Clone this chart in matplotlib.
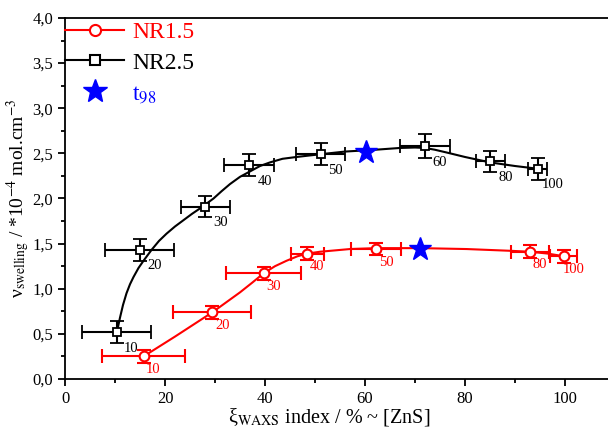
import matplotlib
matplotlib.use("Agg")
import matplotlib.pyplot as plt
from matplotlib.ticker import MultipleLocator, FuncFormatter

plt.rcParams['font.family'] = ['Liberation Serif', 'DejaVu Serif']
plt.rcParams['mathtext.fontset'] = 'stix'

# NR1.5 series
nr15_x = [15.7, 29.5, 39.7, 48.5, 62.3, 93.0, 99.8]
nr15_y = [0.25, 0.74, 1.17, 1.39, 1.44, 1.41, 1.36]
nr15_xerr = [8.3, 7.8, 7.5, 3.4, 5.0, 3.8, 2.7]
nr15_yerr = [0.07, 0.07, 0.07, 0.07, 0.07, 0.07, 0.07]
nr15_lab = ['10', '20', '30', '40', '50', '80', '100']
nr15_fit_x = [15.7, 22, 29.5, 33, 35, 37.5, 39.7, 42, 44.3, 46.5, 48.5, 51, 53, 57, 62.3,
              71.1, 80.3, 89.3, 93, 96.5, 99.8]
nr15_fit_y = [0.25, 0.47, 0.74, 0.88, 0.96, 1.07, 1.17, 1.25, 1.31, 1.36, 1.39, 1.41, 1.42,
              1.44, 1.45, 1.45, 1.44, 1.42, 1.41, 1.39, 1.36]

# NR2.5 series
nr25_x = [10.3, 14.9, 28.1, 36.9, 51.1, 72.0, 85.1, 94.5]
nr25_y = [0.52, 1.43, 1.91, 2.37, 2.49, 2.58, 2.41, 2.33]
nr25_xerr = [6.9, 7.0, 5.0, 5.0, 5.0, 5.0, 2.9, 1.9]
nr25_yerr = [0.12, 0.12, 0.12, 0.12, 0.12, 0.13, 0.12, 0.12]
nr25_lab = ['10', '20', '30', '40', '50', '60', '80', '100']
nr25_fit_x = [10.5, 11.0, 11.6, 12.3, 13.0, 13.7, 14.7, 15.7, 17.3, 18.8, 20.3, 22, 23.7,
              25.4, 27, 29.7, 31.3, 33, 35, 37, 39, 41, 43.5, 46.3, 51, 56, 62, 67, 70,
              72, 74, 76.3, 80, 85, 90, 94.5]
nr25_fit_y = [0.55, 0.68, 0.82, 0.95, 1.05, 1.13, 1.23, 1.31, 1.43, 1.53, 1.61, 1.69, 1.76,
              1.83, 1.89, 2.00, 2.08, 2.16, 2.24, 2.30, 2.36, 2.40, 2.44, 2.46, 2.49, 2.52,
              2.54, 2.56, 2.565, 2.56, 2.54, 2.51, 2.46, 2.40, 2.36, 2.33]

# t98 points
t98_x = [71.1, 60.2]
t98_y = [1.44, 2.51]

fig = plt.figure(figsize=(6.08, 4.29), dpi=100)
ax = fig.add_axes([65 / 608, 50 / 429, 550 / 608, 361 / 429])

ax.plot(nr15_fit_x, nr15_fit_y, color='red', lw=1.5)
ax.errorbar(nr15_x, nr15_y, xerr=nr15_xerr, yerr=nr15_yerr, fmt='o', color='red',
            mfc='white', mec='red', ms=7, mew=1.5, elinewidth=1.5, capsize=5, capthick=1.5)
ax.plot(nr25_fit_x, nr25_fit_y, color='black', lw=1.5)
ax.errorbar(nr25_x, nr25_y, xerr=nr25_xerr, yerr=nr25_yerr, fmt='s', color='black',
            mfc='white', mec='black', ms=5.5, mew=1.3, elinewidth=1.5, capsize=5, capthick=1.5)
ax.plot(t98_x, t98_y, '*', color='blue', ms=17, mec='blue')

for x, y, s in zip(nr15_x, nr15_y, nr15_lab):
    ax.annotate(s, (x, y), xytext=(10, -13), textcoords='offset pixels',
                ha='center', va='center', color='red', fontsize=10.5)
for x, y, s in zip(nr25_x, nr25_y, nr25_lab):
    ax.annotate(s, (x, y), xytext=(15, -16), textcoords='offset pixels',
                ha='center', va='center', color='black', fontsize=10.5)

# legend handles
h1, = ax.plot([], [], '-o', color='red', mfc='white', mec='red', ms=8, mew=1.5, lw=1.5)
h2, = ax.plot([], [], '-s', color='black', mfc='white', mec='black', ms=7, mew=1.5, lw=1.5)
h3, = ax.plot([], [], '*', color='blue', ms=18, lw=0)
leg = ax.legend([h1, h2, h3], ['NR1.5', 'NR2.5', r't$_{98}$'], loc='upper left',
                frameon=False, fontsize=17, handlelength=2.5, handletextpad=0.35,
                labelspacing=0.38, borderaxespad=0.0, borderpad=0.0,
                bbox_to_anchor=(0.0, 0.99))
for txt, c in zip(leg.get_texts(), ['red', 'black', 'blue']):
    txt.set_color(c)

ax.set_xlim(0, 110)
ax.set_ylim(0, 4.0)
ax.xaxis.set_major_locator(MultipleLocator(20))
ax.xaxis.set_minor_locator(MultipleLocator(10))
ax.yaxis.set_major_locator(MultipleLocator(0.5))
ax.yaxis.set_minor_locator(MultipleLocator(0.25))
ax.yaxis.set_major_formatter(FuncFormatter(lambda v, p: ('%.1f' % v).replace('.', ',')))
ax.tick_params(which='major', direction='out', length=5, width=1.3, labelsize=12)
ax.tick_params(which='minor', direction='out', length=3, width=1.3)
for sp in ax.spines.values():
    sp.set_linewidth(1.3)

ax.set_xlabel('ξ$_{\\mathrm{WAXS}}$ index / % ~ [ZnS]', fontsize=14.5)
ax.xaxis.set_label_coords(0.48, -0.075)
ax.set_ylabel('ν$_{\\mathrm{swelling}}$ / *10$^{-4}$ mol.cm$^{-3}$', fontsize=14)
ax.yaxis.set_label_coords(-0.06, 0.5)

fig.savefig('out.png', dpi=100)
